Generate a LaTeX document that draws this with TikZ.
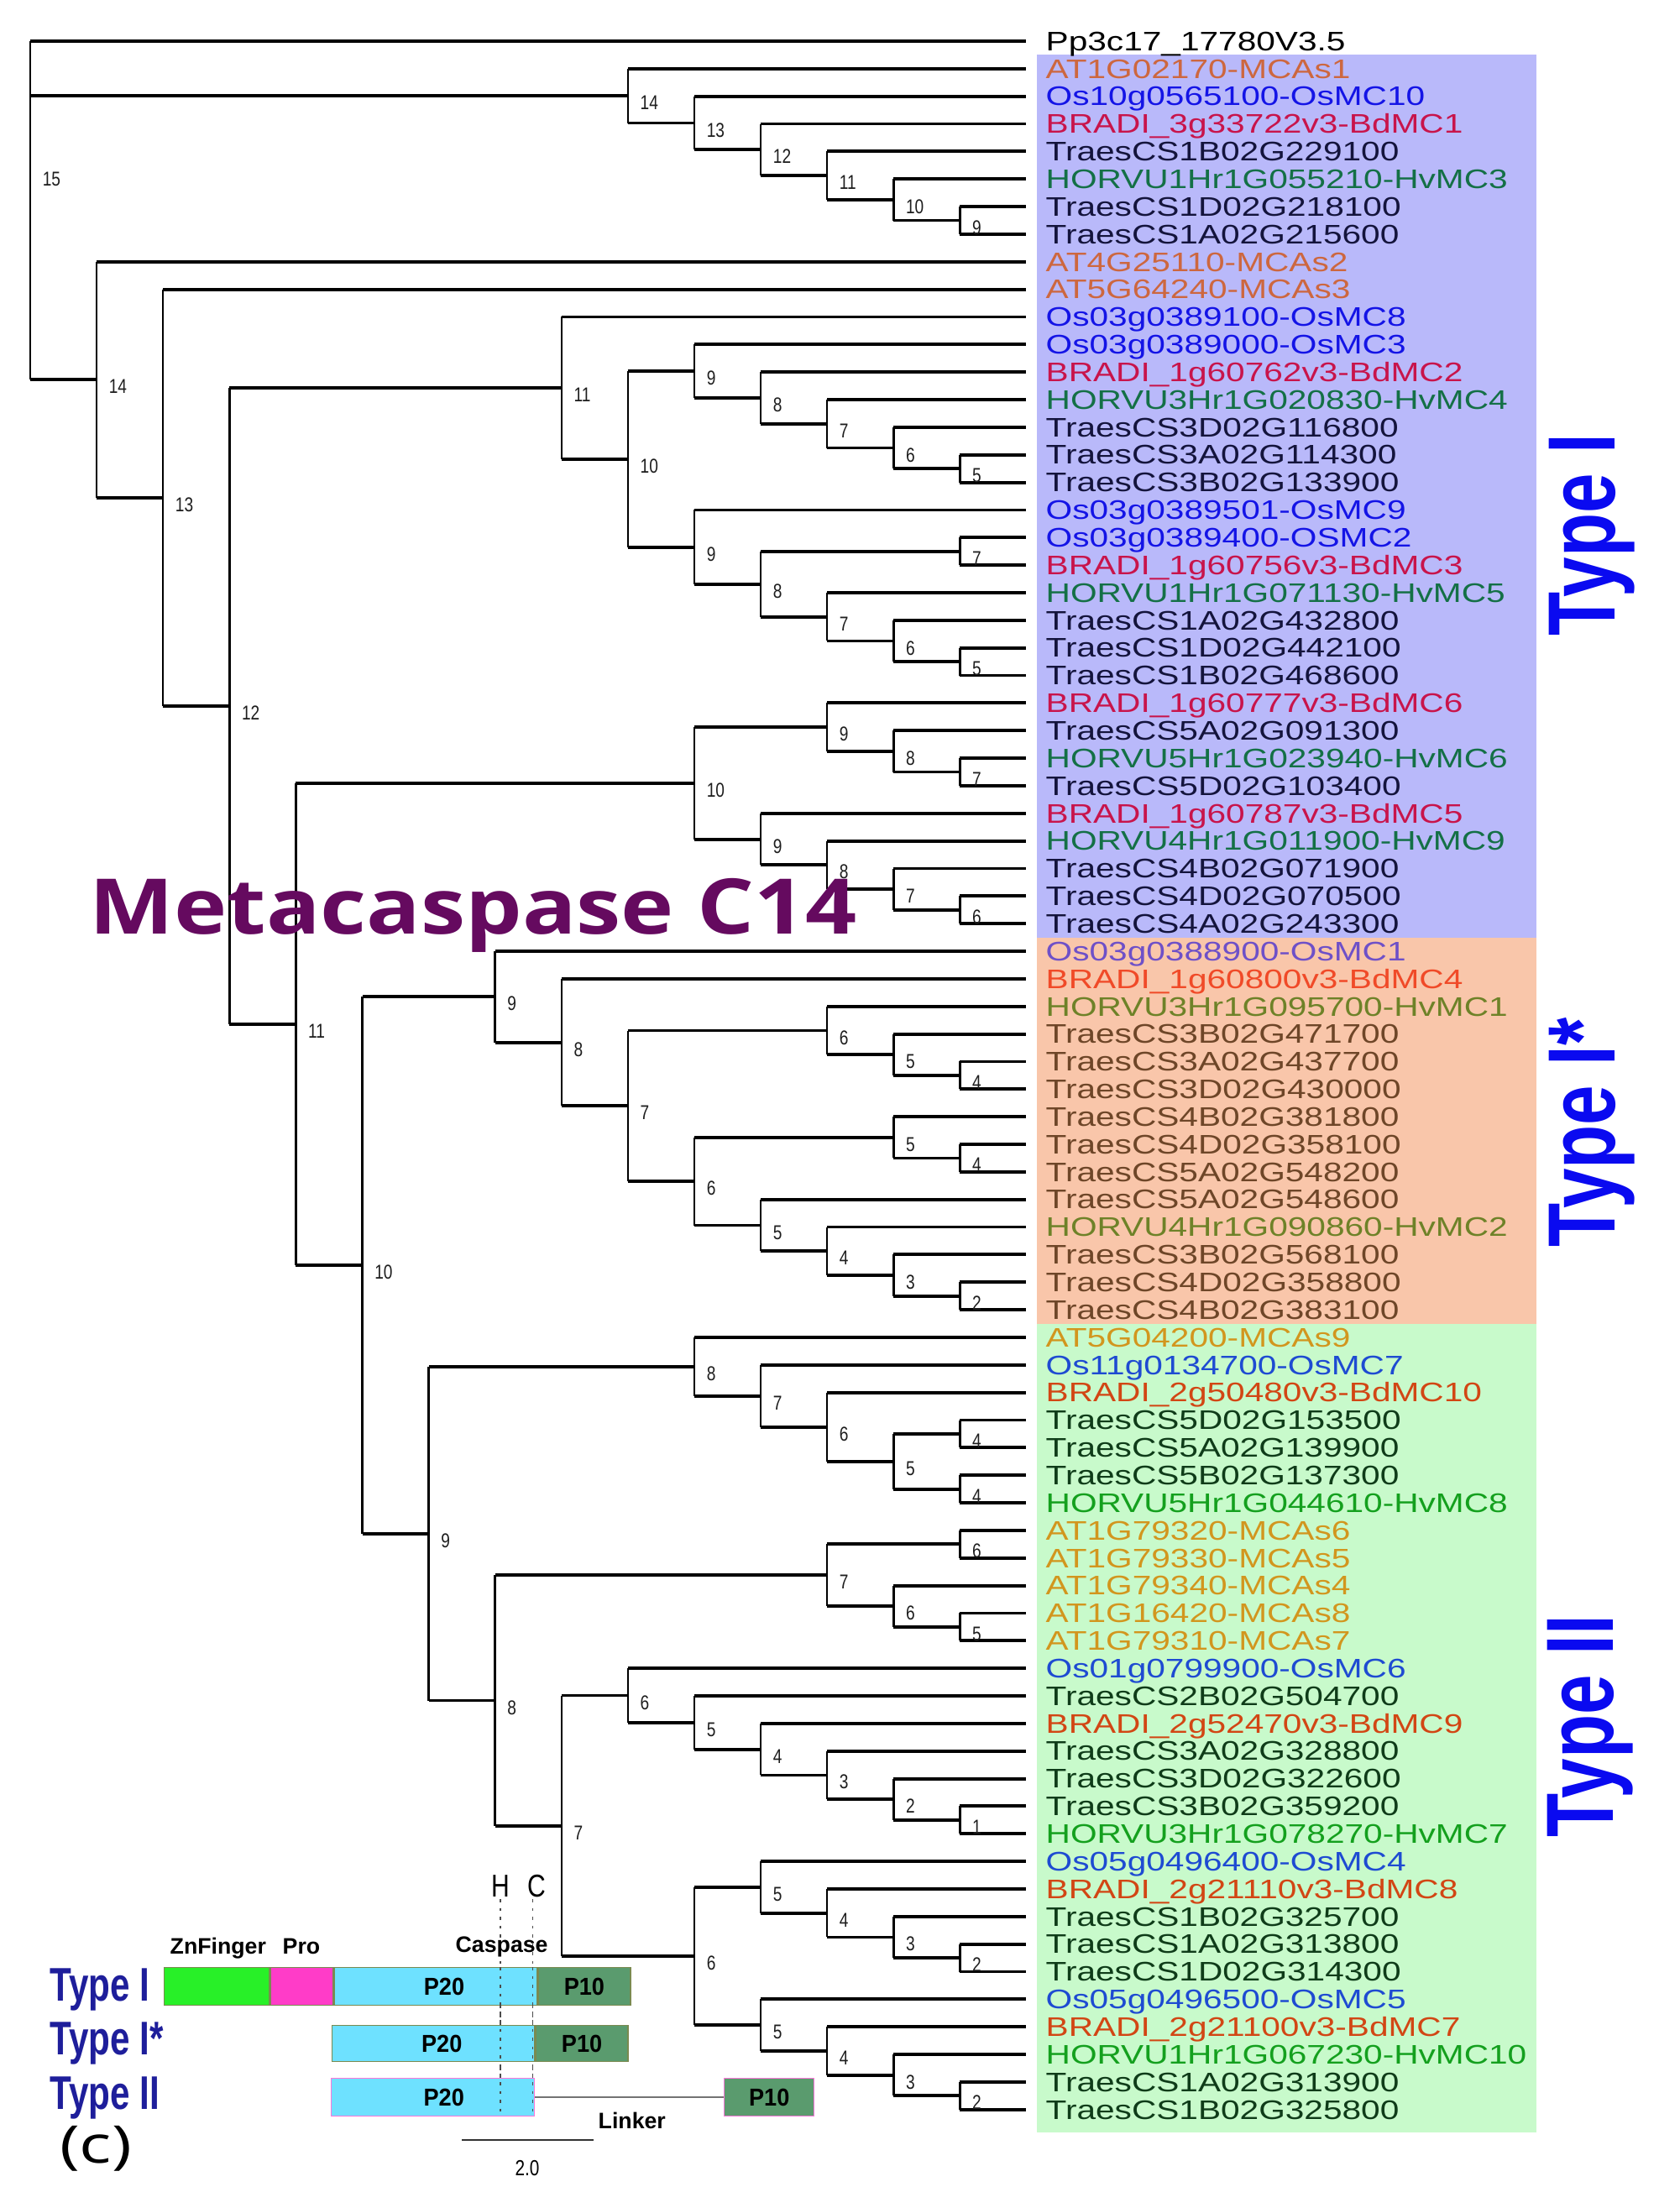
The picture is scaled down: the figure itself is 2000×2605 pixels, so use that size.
\documentclass[tikz,border=0pt]{standalone}
\usepackage{fontspec}
\setmainfont{Liberation Sans}
\usepackage{xcolor}
\usepackage{tikz}
\usetikzlibrary{calc,positioning}
\newfontfamily\leaffont[FakeStretch=1.27]{Liberation Sans}
\newfontfamily\numfont[FakeStretch=0.8]{Liberation Sans}
\newfontfamily\typefont[FakeStretch=0.75]{Liberation Sans}
\newfontfamily\domfont[FakeStretch=0.93]{Liberation Sans}
\newfontfamily\titlefont[FakeStretch=1.17]{Open Sans}
\newfontfamily\capfont[FakeStretch=1.3]{Open Sans}
\definecolor{bgone}{HTML}{B9B9FA}
\definecolor{bgstar}{HTML}{F9C6AA}
\definecolor{bgtwo}{HTML}{C8FACB}
\definecolor{atone}{HTML}{CD673F}
\definecolor{osone}{HTML}{1414E6}
\definecolor{bdone}{HTML}{C8144B}
\definecolor{taone}{HTML}{14143C}
\definecolor{hvone}{HTML}{147046}
\definecolor{osstar}{HTML}{6E50C8}
\definecolor{bdstar}{HTML}{F04A28}
\definecolor{hvstar}{HTML}{6E8228}
\definecolor{tastar}{HTML}{6E4628}
\definecolor{attwo}{HTML}{D2961E}
\definecolor{ostwo}{HTML}{1E4BD2}
\definecolor{bdtwo}{HTML}{D24614}
\definecolor{tatwo}{HTML}{0F3C19}
\definecolor{hvtwo}{HTML}{14A01E}
\definecolor{numgray}{HTML}{1E1E1E}
\definecolor{typeblue}{HTML}{0A0AF0}
\definecolor{typenavy}{HTML}{1E1E9B}
\definecolor{titlepurple}{HTML}{650A5F}
\definecolor{zncol}{HTML}{28F028}
\definecolor{procol}{HTML}{FF3CC8}
\definecolor{ptwenty}{HTML}{6EE1FF}
\definecolor{pten}{HTML}{5A9B6E}
\definecolor{domedge}{HTML}{7A8A50}
\tikzset{
  hbranch/.style={line width=1.1pt, draw=black},
  vbranch/.style={line width=0.7pt, draw=black},
  numlbl/.style={anchor=north west, inner sep=0pt, xshift=4pt, yshift=0.35pt,
    text height=4.85pt, text depth=0pt, text=numgray,
    font=\numfont\fontsize{6.8}{7}\selectfont},
  leaf/.style={inner sep=0pt, text height=6.4pt, text depth=0pt,
    font=\leaffont\fontsize{9.1}{10}\selectfont},
  typelbl/.style={rotate=90, inner sep=0pt, text=typeblue,
    font=\typefont\bfseries\fontsize{32.4}{34}\selectfont},
  smalltype/.style={anchor=base west, inner sep=0pt, text=typenavy,
    font=\typefont\bfseries\fontsize{16}{18}\selectfont},
  dom/.style={anchor=north west, inner sep=0pt, draw=domedge, line width=0.4pt,
    minimum height=4.5mm, font=\domfont\bfseries\fontsize{8.3}{9}\selectfont},
  domlbl/.style={anchor=base west, inner sep=0pt,
    font=\bfseries\fontsize{7.6}{8}\selectfont},
  hcline/.style={dash pattern=on 1pt off 2pt, line width=0.4pt, draw=black!70},
  linker/.style={line width=0.6pt, draw=black!55},
  scalebar/.style={line width=0.6pt, draw=black!80}
}
% one leaf: tip coordinate and its name
\newcommand{\Leaf}[3]{%
  \coordinate (t#1) at (1222,{49+(#1-1)*32.85});
  \node[leaf, text=#2, right=2.3mm of t#1] (n#1) {#3};
}
% one clade: name, level, label, upper child, lower child
\newcommand{\Clade}[5]{%
  \coordinate (mid) at ($(#4)!0.5!(#5)$);
  \coordinate (#1) at (L#2 |- mid);
  \draw[vbranch] (L#2 |- #4) -- (L#2 |- #5);
  \draw[hbranch] (L#2 |- #4) -- (#4);
  \draw[hbranch] (L#2 |- #5) -- (#5);
  \node[numlbl] (#1l) at (#1) {#3};
}

\begin{document}
\begin{tikzpicture}[x=0.1mm, y=-0.1mm]
  \useasboundingbox (0,0) rectangle (2000,2605);
  \fill[white] (0,0) rectangle (2000,2605);

  % Group backgrounds
  \fill[bgone] (1235,65) rectangle (1830,1116.6);
  \fill[bgstar] (1235,1116.6) rectangle (1830,1576.6);
  \fill[bgtwo] (1235,1576.6) rectangle (1830,2540);

  \foreach \k in {0,...,15} \coordinate (L\k) at ({36+79.1*\k},0);

  % Leaves
  \Leaf{1}{black}{Pp3c17\_17780V3.5}
  \Leaf{2}{atone}{AT1G02170-MCAs1}
  \Leaf{3}{osone}{Os10g0565100-OsMC10}
  \Leaf{4}{bdone}{BRADI\_3g33722v3-BdMC1}
  \Leaf{5}{taone}{TraesCS1B02G229100}
  \Leaf{6}{hvone}{HORVU1Hr1G055210-HvMC3}
  \Leaf{7}{taone}{TraesCS1D02G218100}
  \Leaf{8}{taone}{TraesCS1A02G215600}
  \Leaf{9}{atone}{AT4G25110-MCAs2}
  \Leaf{10}{atone}{AT5G64240-MCAs3}
  \Leaf{11}{osone}{Os03g0389100-OsMC8}
  \Leaf{12}{osone}{Os03g0389000-OsMC3}
  \Leaf{13}{bdone}{BRADI\_1g60762v3-BdMC2}
  \Leaf{14}{hvone}{HORVU3Hr1G020830-HvMC4}
  \Leaf{15}{taone}{TraesCS3D02G116800}
  \Leaf{16}{taone}{TraesCS3A02G114300}
  \Leaf{17}{taone}{TraesCS3B02G133900}
  \Leaf{18}{osone}{Os03g0389501-OsMC9}
  \Leaf{19}{osone}{Os03g0389400-OSMC2}
  \Leaf{20}{bdone}{BRADI\_1g60756v3-BdMC3}
  \Leaf{21}{hvone}{HORVU1Hr1G071130-HvMC5}
  \Leaf{22}{taone}{TraesCS1A02G432800}
  \Leaf{23}{taone}{TraesCS1D02G442100}
  \Leaf{24}{taone}{TraesCS1B02G468600}
  \Leaf{25}{bdone}{BRADI\_1g60777v3-BdMC6}
  \Leaf{26}{taone}{TraesCS5A02G091300}
  \Leaf{27}{hvone}{HORVU5Hr1G023940-HvMC6}
  \Leaf{28}{taone}{TraesCS5D02G103400}
  \Leaf{29}{bdone}{BRADI\_1g60787v3-BdMC5}
  \Leaf{30}{hvone}{HORVU4Hr1G011900-HvMC9}
  \Leaf{31}{taone}{TraesCS4B02G071900}
  \Leaf{32}{taone}{TraesCS4D02G070500}
  \Leaf{33}{taone}{TraesCS4A02G243300}
  \Leaf{34}{osstar}{Os03g0388900-OsMC1}
  \Leaf{35}{bdstar}{BRADI\_1g60800v3-BdMC4}
  \Leaf{36}{hvstar}{HORVU3Hr1G095700-HvMC1}
  \Leaf{37}{tastar}{TraesCS3B02G471700}
  \Leaf{38}{tastar}{TraesCS3A02G437700}
  \Leaf{39}{tastar}{TraesCS3D02G430000}
  \Leaf{40}{tastar}{TraesCS4B02G381800}
  \Leaf{41}{tastar}{TraesCS4D02G358100}
  \Leaf{42}{tastar}{TraesCS5A02G548200}
  \Leaf{43}{tastar}{TraesCS5A02G548600}
  \Leaf{44}{hvstar}{HORVU4Hr1G090860-HvMC2}
  \Leaf{45}{tastar}{TraesCS3B02G568100}
  \Leaf{46}{tastar}{TraesCS4D02G358800}
  \Leaf{47}{tastar}{TraesCS4B02G383100}
  \Leaf{48}{attwo}{AT5G04200-MCAs9}
  \Leaf{49}{ostwo}{Os11g0134700-OsMC7}
  \Leaf{50}{bdtwo}{BRADI\_2g50480v3-BdMC10}
  \Leaf{51}{tatwo}{TraesCS5D02G153500}
  \Leaf{52}{tatwo}{TraesCS5A02G139900}
  \Leaf{53}{tatwo}{TraesCS5B02G137300}
  \Leaf{54}{hvtwo}{HORVU5Hr1G044610-HvMC8}
  \Leaf{55}{attwo}{AT1G79320-MCAs6}
  \Leaf{56}{attwo}{AT1G79330-MCAs5}
  \Leaf{57}{attwo}{AT1G79340-MCAs4}
  \Leaf{58}{attwo}{AT1G16420-MCAs8}
  \Leaf{59}{attwo}{AT1G79310-MCAs7}
  \Leaf{60}{ostwo}{Os01g0799900-OsMC6}
  \Leaf{61}{tatwo}{TraesCS2B02G504700}
  \Leaf{62}{bdtwo}{BRADI\_2g52470v3-BdMC9}
  \Leaf{63}{tatwo}{TraesCS3A02G328800}
  \Leaf{64}{tatwo}{TraesCS3D02G322600}
  \Leaf{65}{tatwo}{TraesCS3B02G359200}
  \Leaf{66}{hvtwo}{HORVU3Hr1G078270-HvMC7}
  \Leaf{67}{ostwo}{Os05g0496400-OsMC4}
  \Leaf{68}{bdtwo}{BRADI\_2g21110v3-BdMC8}
  \Leaf{69}{tatwo}{TraesCS1B02G325700}
  \Leaf{70}{tatwo}{TraesCS1A02G313800}
  \Leaf{71}{tatwo}{TraesCS1D02G314300}
  \Leaf{72}{ostwo}{Os05g0496500-OsMC5}
  \Leaf{73}{bdtwo}{BRADI\_2g21100v3-BdMC7}
  \Leaf{74}{hvtwo}{HORVU1Hr1G067230-HvMC10}
  \Leaf{75}{tatwo}{TraesCS1A02G313900}
  \Leaf{76}{tatwo}{TraesCS1B02G325800}

  % Top Type I clade
  \Clade{a9}{14}{9}{t7}{t8}
  \Clade{a10}{13}{10}{t6}{a9}
  \Clade{a11}{12}{11}{t5}{a10}
  \Clade{a12}{11}{12}{t4}{a11}
  \Clade{a13}{10}{13}{t3}{a12}
  \Clade{a14}{9}{14}{t2}{a13}

  % Type I, second block
  \Clade{c5a}{14}{5}{t16}{t17}
  \Clade{c6a}{13}{6}{t15}{c5a}
  \Clade{c7a}{12}{7}{t14}{c6a}
  \Clade{c8a}{11}{8}{t13}{c7a}
  \Clade{c9a}{10}{9}{t12}{c8a}
  \Clade{c7b}{14}{7}{t19}{t20}
  \Clade{c5b}{14}{5}{t23}{t24}
  \Clade{c6b}{13}{6}{t22}{c5b}
  \Clade{c7c}{12}{7}{t21}{c6b}
  \Clade{c8b}{11}{8}{c7b}{c7c}
  \Clade{c9b}{10}{9}{t18}{c8b}
  \Clade{c10}{9}{10}{c9a}{c9b}
  \Clade{c11}{8}{11}{t11}{c10}

  % Type I, third block
  \Clade{e7a}{14}{7}{t27}{t28}
  \Clade{e8a}{13}{8}{t26}{e7a}
  \Clade{e9a}{12}{9}{t25}{e8a}
  \Clade{e6b}{14}{6}{t32}{t33}
  \Clade{e7b}{13}{7}{t31}{e6b}
  \Clade{e8b}{12}{8}{t30}{e7b}
  \Clade{e9b}{11}{9}{t29}{e8b}
  \Clade{e10}{10}{10}{e9a}{e9b}

  % Type I*
  \Clade{f4a}{14}{4}{t38}{t39}
  \Clade{f5a}{13}{5}{t37}{f4a}
  \Clade{f6a}{12}{6}{t36}{f5a}
  \Clade{f4b}{14}{4}{t41}{t42}
  \Clade{f5b}{13}{5}{t40}{f4b}
  \Clade{f2c}{14}{2}{t46}{t47}
  \Clade{f3c}{13}{3}{t45}{f2c}
  \Clade{f4c}{12}{4}{t44}{f3c}
  \Clade{f5c}{11}{5}{t43}{f4c}
  \Clade{f6b}{10}{6}{f5b}{f5c}
  \Clade{f7}{9}{7}{f6a}{f6b}
  \Clade{f8}{8}{8}{t35}{f7}
  \Clade{f9}{7}{9}{t34}{f8}

  % Type II
  \Clade{g4a}{14}{4}{t51}{t52}
  \Clade{g4b}{14}{4}{t53}{t54}
  \Clade{g5}{13}{5}{g4a}{g4b}
  \Clade{g6}{12}{6}{t50}{g5}
  \Clade{g7}{11}{7}{t49}{g6}
  \Clade{g8}{10}{8}{t48}{g7}
  \Clade{h6a}{14}{6}{t55}{t56}
  \Clade{h5b}{14}{5}{t58}{t59}
  \Clade{h6b}{13}{6}{t57}{h5b}
  \Clade{h7}{12}{7}{h6a}{h6b}
  \Clade{i1}{14}{1}{t65}{t66}
  \Clade{i2}{13}{2}{t64}{i1}
  \Clade{i3}{12}{3}{t63}{i2}
  \Clade{i4}{11}{4}{t62}{i3}
  \Clade{i5}{10}{5}{t61}{i4}
  \Clade{i6}{9}{6}{t60}{i5}
  \Clade{j2a}{14}{2}{t70}{t71}
  \Clade{j3a}{13}{3}{t69}{j2a}
  \Clade{j4a}{12}{4}{t68}{j3a}
  \Clade{j5a}{11}{5}{t67}{j4a}
  \Clade{j2b}{14}{2}{t75}{t76}
  \Clade{j3b}{13}{3}{t74}{j2b}
  \Clade{j4b}{12}{4}{t73}{j3b}
  \Clade{j5b}{11}{5}{t72}{j4b}
  \Clade{j6}{10}{6}{j5a}{j5b}
  \Clade{i7}{8}{7}{i6}{j6}
  \Clade{h8}{7}{8}{h7}{i7}
  \Clade{g9}{6}{9}{g8}{h8}

  % Backbone
  \Clade{d10}{5}{10}{f9}{g9}
  \Clade{d11}{4}{11}{e10}{d10}
  \Clade{b12}{3}{12}{c11}{d11}
  \Clade{b13}{2}{13}{t10}{b12}
  \Clade{b14}{1}{14}{t9}{b13}

  % Root
  \coordinate (root) at (36,205.2);
  \draw[vbranch] (L0 |- t1) -- (L0 |- b14);
  \draw[hbranch] (L0 |- t1) -- (t1);
  \draw[hbranch] (L0 |- a14) -- (a14);
  \draw[hbranch] (L0 |- b14) -- (b14);
  \node[numlbl] (rootl) at (root) {15};

  % Group names
  \node[typelbl] (tI) at (1896,637) {Type I};
  \node[typelbl] (tIs) at (1896,1349) {Type I*};
  \node[typelbl] (tII) at (1894,2056) {Type II};

  \node[anchor=base west, inner sep=0pt, text=titlepurple,
    font=\titlefont\bfseries\fontsize{26}{28}\selectfont]
    (title) at (106,1112) {Metacaspase C14};

  % Domain sketch
  \node[smalltype] (sI) at (59,2383) {Type I};
  \node[smalltype] (sIs) at (59,2447) {Type I*};
  \node[smalltype] (sII) at (59,2512) {Type II};
  \node[inner sep=0pt, font=\capfont\fontsize{17.6}{20}\selectfont] (lc) at (114,2559) {(c)};

  \draw[hcline] (596,2262) -- (596,2520);
  \draw[hcline] (634.5,2262) -- (634.5,2520);
  \node[inner sep=0pt, font=\numfont\fontsize{10.7}{12}\selectfont] (lH) at (596,2247) {H};
  \node[inner sep=0pt, font=\numfont\fontsize{10.7}{12}\selectfont] (lC) at (639,2247) {C};
  \node[domlbl] (lzn) at (202,2327) {ZnFinger};
  \node[domlbl] (lpro) at (336,2327) {Pro};
  \node[domlbl] (lcas) at (542,2325) {Caspase};

  \node[dom, fill=zncol, minimum width=12.55mm] (zn1) at (194.5,2343) {};
  \node[dom, fill=procol, minimum width=7.5mm, right=0pt of zn1] (pro1) {};
  \node[dom, fill=ptwenty, minimum width=24.1mm, right=0pt of pro1] (pa1) {\hspace{2mm}P20};
  \node[dom, fill=pten, minimum width=11mm, right=0pt of pa1] (pb1) {P10};

  \node[dom, fill=ptwenty, minimum width=24.1mm, minimum height=4.3mm] (pa2) at (395,2412) {\hspace{2mm}P20};
  \node[dom, fill=pten, minimum width=11mm, minimum height=4.3mm, right=0pt of pa2] (pb2) {P10};

  \node[dom, fill=ptwenty, draw=procol!70, minimum width=24.2mm] (pa3) at (394,2475) {\hspace{2.6mm}P20};
  \node[dom, fill=pten, draw=procol!70, minimum width=10.7mm] (pb3) at (862,2475) {P10};
  \draw[linker] (pa3.east) -- (pb3.west);
  \node[domlbl] (llk) at (712,2535) {Linker};

  \draw[hcline] (596,2343) -- (596,2520);
  \draw[hcline] (634.5,2343) -- (634.5,2520);

  \draw[scalebar] (550,2549) -- (707,2549);
  \node[anchor=base, inner sep=0pt, font=\numfont\fontsize{7.4}{8}\selectfont] (lsc) at (628,2591) {2.0};
\end{tikzpicture}
\end{document}
